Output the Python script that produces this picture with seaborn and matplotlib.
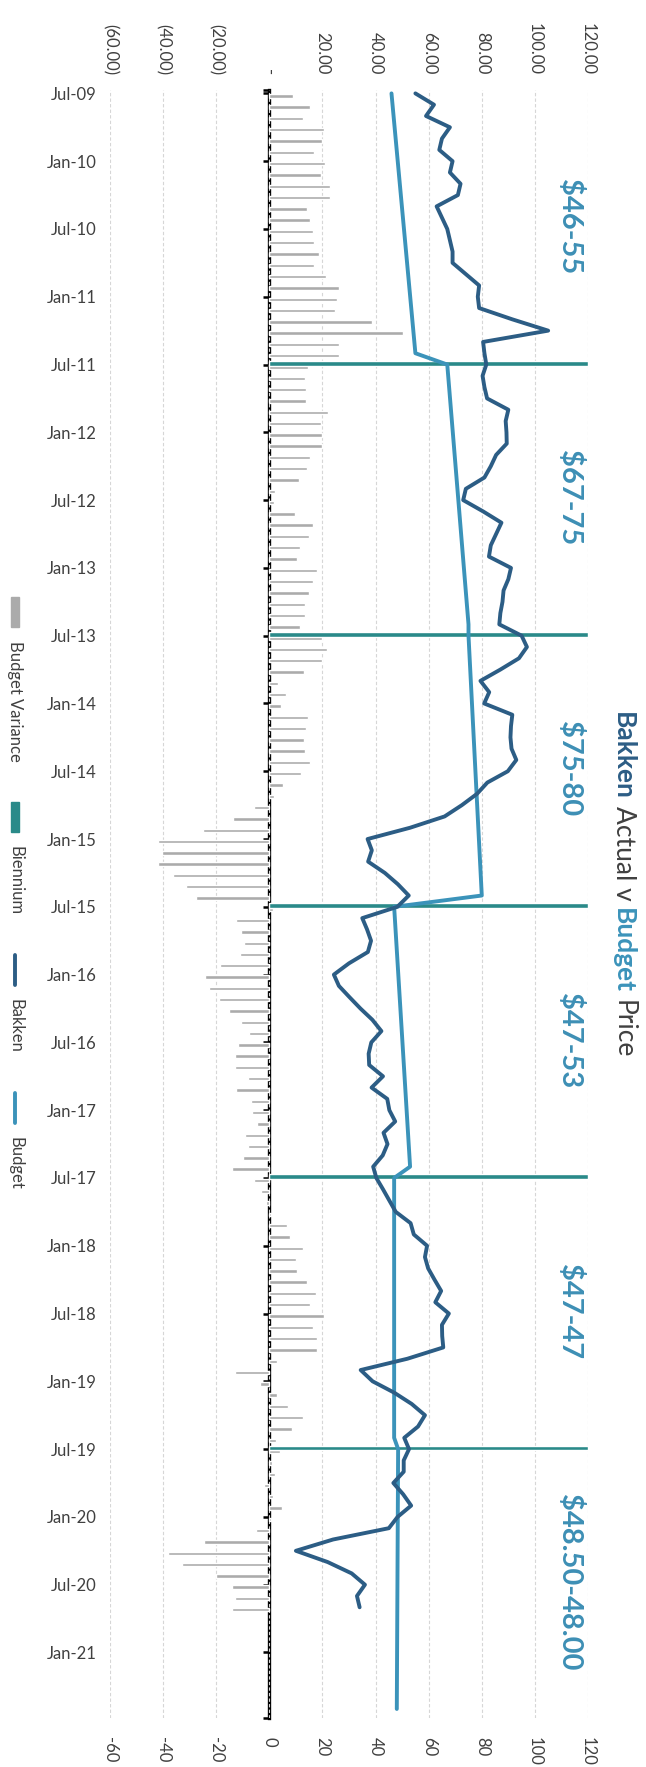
import matplotlib
matplotlib.use("Agg")
import matplotlib.pyplot as plt
import matplotlib.patches as mpatches
from matplotlib.lines import Line2D
import seaborn as sns
import pandas as pd
import numpy as np

# time axis labels, one every 6 months from Jul-09
tick_labels = ["Jul-09", "Jan-10", "Jul-10", "Jan-11", "Jul-11", "Jan-12", "Jul-12", "Jan-13",
               "Jul-13", "Jan-14", "Jul-14", "Jan-15", "Jul-15", "Jan-16", "Jul-16", "Jan-17",
               "Jul-17", "Jan-18", "Jul-18", "Jan-19", "Jul-19", "Jan-20", "Jul-20", "Jan-21"]

# monthly Bakken price, Jul-09 onwards
bakken = [55, 62, 59, 68, 65, 64, 69, 68, 72, 71,
          63, 65, 67, 68, 69, 69, 74, 79, 78.5, 79,
          91.5, 105, 80.5, 81, 81.7, 80.3, 81, 82, 90, 89,
          89.3, 89.4, 85.4, 83.4, 81, 74, 73, 80.5, 87.4, 85.4,
          83.4, 82.7, 91, 90, 88.2, 87.8, 87, 86.6, 95, 97,
          94, 87, 79.5, 82.8, 80.9, 91.5, 91, 90.8, 91.2, 93,
          89.8, 82.1, 78.2, 72.5, 66, 53, 37, 38.6, 37.2, 43.5,
          48.4, 52.5, 48.2, 35, 36.8, 38.3, 37.1, 30, 24.3, 26.2,
          30.2, 34.3, 38.8, 42.2, 38.4, 37.4, 37.6, 42.8, 38.5, 44.4,
          45.2, 47.4, 43, 44.5, 42.7, 39.1, 40.3, 42.8, 45.2, 47.6,
          53.2, 54.4, 59.4, 58.6, 59.8, 62.2, 64.7, 62.5, 67.6, 65,
          65.1, 65.5, 52, 34.4, 38.9, 47, 53.6, 58.6, 56, 50.8,
          52.6, 50.6, 50.6, 46.7, 50.4, 53.4, 48.3, 45, 24, 10,
          22, 31, 36, 33, 34]

# monthly budget variance bars
variance = [8.8, 15.2, 12.6, 20.5, 19.8, 16.7, 20.8, 19.6, 22.7, 22.7,
            14.1, 15.5, 16.6, 16.9, 18.6, 16.9, 21.2, 26.2, 25.5, 24.7,
            38.5, 50.4, 26.3, 26.2, 14.7, 13.4, 13.7, 13.9, 22.0, 19.4,
            19.7, 19.9, 15.3, 14.0, 11.3, 2.0, 1.7, 9.5, 16.4, 15.0,
            11.5, 10.4, 17.8, 16.5, 15.0, 13.5, 13.4, 11.4, 20.0, 21.9,
            20.0, 12.9, 3.4, 6.4, 4.4, 14.5, 13.7, 13.0, 13.5, 15.3,
            12.1, 5.0, 1.8, -5.9, -13.6, -25.0, -41.9, -40.5, -42.1, -36.1,
            -31.4, -27.5, 1.2, -12.5, -10.7, -9.5, -10.9, -18.6, -24.3, -22.6,
            -18.9, -15.1, -10.8, -7.7, -11.7, -13.0, -13.1, -8.1, -12.7, -7.0,
            -6.5, -4.6, -9.2, -8.0, -10.0, -13.9, -5.8, -3.3, -1.4, 0.5,
            6.5, 7.6, 12.6, 9.9, 10.5, 14.2, 17.6, 15.2, 20.6, 16.5,
            17.8, 18.0, 3.0, -13.0, -3.7, 3.0, 6.9, 12.6, 8.6, 2.6,
            4.1, 1.0, 2.0, -2.0, 1.5, 4.8, 0.5, -5.0, -24.5, -38.0,
            -33.0, -20.0, -14.0, -13.0, -14.0]

# biennium budget ranges
biennium_start = ["Jul-09", "Jul-11", "Jul-13", "Jul-15", "Jul-17", "Jul-19"]
budget_start = [46, 67, 75, 47, 47, 48.5]
budget_end = [55, 75, 80, 53, 47, 48.0]
biennium_labels = ["$46-55", "$67-75", "$75-80", "$47-53", "$47-47", "$48.50-48.00"]
biennium_height = 120

C_BAKKEN = "#2c5d85"
C_BUDGET = "#3b93ba"
C_BIENNIUM = "#2a8a89"
C_VAR = "#ababab"
C_LABEL = "#3d8fb5"
C_TEXT = "#404040"

W, H = 646, 1767


def month_index(label):
    d = pd.to_datetime(label, format="%b-%y")
    return (d.year - 2009) * 12 + d.month - 7


def fx(px):
    return px / W


def fy(py):
    return 1 - py / H


def acct(v):
    if v == 0:
        return "-"
    if v < 0:
        return f"({abs(v):.2f})"
    return f"{v:.2f}"


sns.set_style("white")
plt.rcParams["font.family"] = ["Lato", "DejaVu Sans"]

fig = plt.figure(figsize=(W / 100, H / 100), dpi=100)
ax = fig.add_axes([fx(110), fy(1718), 478 / W, (1718 - 90) / H])

# variance and biennium bars
ax.barh(np.arange(len(variance)) + 0.22, variance, height=0.3, color=C_VAR, zorder=2)
starts = [month_index(s) for s in biennium_start]
ax.barh(np.array(starts[1:]) - 0.1, [biennium_height] * (len(starts) - 1), height=0.42,
        color=C_BIENNIUM, zorder=3)

# budget line built from the biennium start/end values
b_m, b_v = [], []
for s, lo, hi in zip(starts, budget_start, budget_end):
    b_m += [s, s + 23]
    b_v += [lo, hi]
sns.lineplot(x=b_v, y=b_m, orient="y", sort=False, color=C_BUDGET, lw=2.8, ax=ax,
             legend=False, zorder=4)
sns.lineplot(x=bakken, y=np.arange(len(bakken)), orient="y", sort=False, color=C_BAKKEN,
             lw=2.8, ax=ax, legend=False, zorder=5)

for s, lab in zip(starts, biennium_labels):
    ax.text(113, s + 11.8, lab, rotation=270, ha="center", va="center", fontsize=21,
            fontweight="bold", color=C_LABEL, zorder=6)

ax.set_xlim(-60, 120)
ax.set_ylim(143.8, -0.3)
ax.set_xlabel("")
ax.set_ylabel("")
for sp in ax.spines.values():
    sp.set_visible(False)

xt = np.arange(-60, 121, 20)
ax.set_xticks(xt)
ax.grid(axis="x", color="#d6d6d6", lw=0.8, ls=(0, (3, 2)), zorder=0)
ax.grid(axis="y", visible=False)
ax.xaxis.tick_top()
ax.set_xticklabels([acct(v) for v in xt], rotation=270)
ax.tick_params(axis="x", length=0, pad=11, labelsize=12, labelcolor=C_TEXT)

ticks = np.arange(0, 6 * len(tick_labels), 6)
ax.set_yticks(ticks)
ax.set_yticklabels(tick_labels)
ax.tick_params(axis="y", length=0, pad=9.5, labelsize=12, labelcolor=C_TEXT)

# right-hand scale of the original, shown at the bottom
sec = ax.secondary_xaxis("bottom")
sec.set_xticks(xt)
sec.set_xticklabels([str(v) for v in xt], rotation=270)
sec.tick_params(length=0, pad=14, labelsize=12, labelcolor=C_TEXT)
for sp in sec.spines.values():
    sp.set_visible(False)

# category axis crossing at zero
zl = ax.secondary_yaxis(1 / 3)
zl.set_yticks(list(ticks) + [-0.3, 143.8])
zl.set_yticklabels([])
zl.yaxis.set_ticks_position("left")
zl.tick_params(length=4, width=1.8, direction="out", color="black")
for side, sp in zl.spines.items():
    sp.set_visible(side == "left")
zl.spines["left"].set_linewidth(2.4)
zl.spines["left"].set_color("black")

renderer = fig.canvas.get_renderer()

# title, read top to bottom
parts = [("Bakken", C_BAKKEN, "bold"), ("Actual v", C_TEXT, "normal"),
         ("Budget", C_BUDGET, "bold"), ("Price", C_TEXT, "normal")]
texts = [fig.text(fx(623), fy(0), t, rotation=270, ha="center", va="top", fontsize=19,
                  color=c, fontweight=w) for t, c, w in parts]
gap = 7
sizes = [t.get_window_extent(renderer).height for t in texts]
y = 885 - (sum(sizes) + gap * (len(sizes) - 1)) / 2
for t, h in zip(texts, sizes):
    t.set_position((fx(623), fy(y)))
    y += h + gap

# legend down the left edge
items = [("Budget Variance", "patch", C_VAR), ("Biennium", "patch", C_BIENNIUM),
         ("Bakken", "line", C_BAKKEN), ("Budget", "line", C_BUDGET)]
y = 597
for name, kind, col in items:
    if kind == "patch":
        fig.add_artist(mpatches.Rectangle((fx(11), fy(y + 30)), 8 / W, 30 / H,
                                          transform=fig.transFigure, color=col))
    else:
        fig.add_artist(Line2D([fx(15), fx(15)], [fy(y), fy(y + 30)], color=col, lw=2.8,
                              transform=fig.transFigure))
    t = fig.text(fx(15), fy(y + 44), name, rotation=270, ha="center", va="top",
                 fontsize=12, color=C_TEXT)
    y += 44 + t.get_window_extent(renderer).height + 40

fig.savefig("out.png", dpi=100)
